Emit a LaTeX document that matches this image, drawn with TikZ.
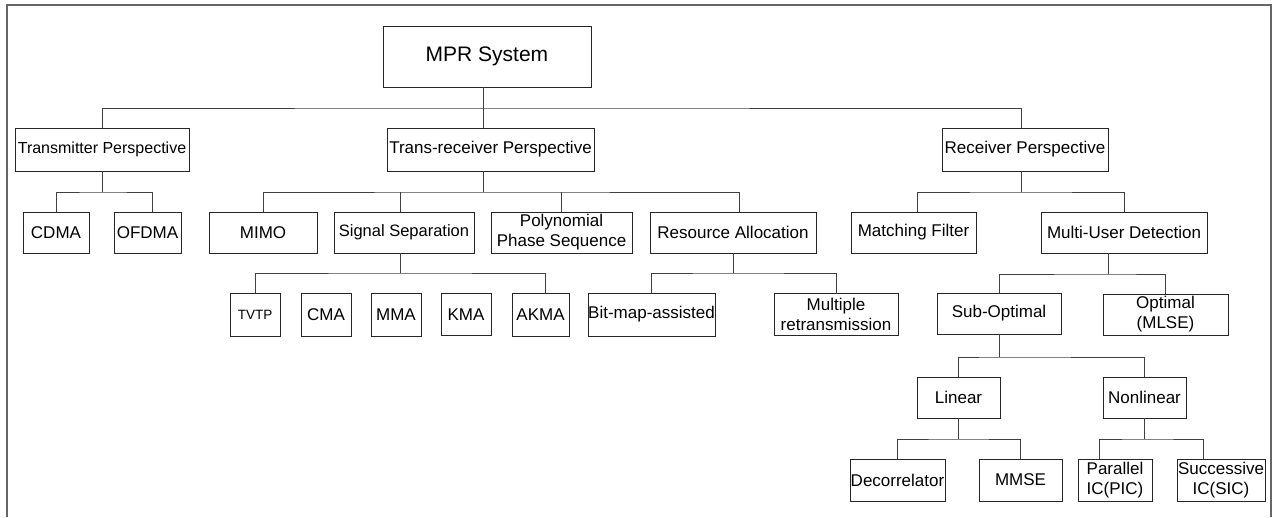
\documentclass[tikz,border=0pt]{standalone}
\usepackage{fontspec}
\setmainfont{Liberation Sans}
\begin{document}
\begin{tikzpicture}[x=1pt,y=-1pt,
  box/.style={draw=black!85, line width=0.9pt, inner sep=0pt, outer sep=0pt, align=center,
    font=\fontsize{17}{20}\selectfont},
  sz/.style 2 args={minimum width=#1pt, minimum height=#2pt},
  link/.style={draw=black!75, line width=0.9pt},
  frame/.style={draw=black!60, line width=1.3pt}]

\useasboundingbox (0,0) rectangle (1279,517);

% outer frame (open at the bottom)
\draw[frame] (7,517) -- (7,5) -- (1271,5) -- (1271,517);

% root
\node[box, sz={208}{61}, font=\fontsize{21}{25}\selectfont] (mpr) at (487,56.5) {MPR System};

% perspectives
\node[box, sz={174}{43}, font=\fontsize{16}{20}\selectfont] (tx) at (102,149.5) {Transmitter Perspective};
\node[box, sz={207}{43}] (trx) at (490.5,149.5) {Trans-receiver Perspective};
\node[box, sz={166}{43}] (rx) at (1025,149.5) {Receiver Perspective};

% second level
\node[box, sz={66}{41}] (cdma) at (56,232.5) {CDMA};
\node[box, sz={67}{41}] (ofdma) at (147.5,232.5) {OFDMA};
\node[box, sz={108}{41}] (mimo) at (263,232.5) {MIMO};
\node[box, sz={140}{41}, font=\fontsize{16.5}{20}\selectfont] (sigsep) at (404,232.5) {Signal Separation};
\node[box, sz={141}{41}] (poly) at (561.5,232.5) {Polynomial\\Phase Sequence};
\node[box, sz={166}{41}] (res) at (733,232.5) {Resource Allocation};
\node[box, sz={125}{41}] (match) at (913.5,232.5) {Matching Filter};
\node[box, sz={166}{41}] (mud) at (1124,232.5) {Multi-User Detection};

% third level
\node[box, sz={50}{43}, font=\fontsize{13.5}{16}\selectfont] (tvtp) at (255,314.5) {TVTP};
\node[box, sz={50}{43}] (cma) at (326,314.5) {CMA};
\node[box, sz={50}{43}] (mma) at (396,314.5) {MMA};
\node[box, sz={50}{42}] (kma) at (466,314.5) {KMA};
\node[box, sz={57}{43}] (akma) at (540.5,314.5) {AKMA};
\node[box, sz={127}{43}] (bitmap) at (651.5,314.5) {Bit-map-assisted};
\node[box, sz={124}{42}] (multi) at (836,314.5) {Multiple\\retransmission};
\node[box, sz={124}{41}] (subopt) at (999,313.5) {Sub-Optimal};
\node[box, sz={125}{41}] (optimal) at (1165.5,314.5) {Optimal\\(MLSE)};

% fourth level
\node[box, sz={83}{41}] (linear) at (958.5,397.5) {Linear};
\node[box, sz={83}{41}] (nonlin) at (1144.5,397.5) {Nonlinear};

% fifth level
\node[box, sz={95}{42}] (decorr) at (897.5,480) {Decorrelator};
\node[box, sz={83}{42}] (mmse) at (1020.5,480) {MMSE};
\node[box, sz={74}{42}] (pic) at (1115,480) {Parallel\\IC(PIC)};
\node[box, sz={88}{42}] (sic) at (1221,480) {Successive\\IC(SIC)};

% bus junctions
\coordinate (b1) at (483,108);
\coordinate (b2a) at (102,192);
\coordinate (b2b) at (483,192);
\coordinate (b2c) at (1021,192);
\coordinate (b3a) at (400,273);
\coordinate (b3b) at (733,273);
\coordinate (b3c) at (1108,274);
\coordinate (b4) at (999,357);
\coordinate (b5a) at (958.5,439);
\coordinate (b5b) at (1144.5,439);

% root to perspectives
\draw[link] ([xshift=-4pt]mpr.south) -- ([xshift=-4pt]mpr.south |- b1);
\draw[link] (tx.north) |- (b1) -| ([xshift=-4pt]rx.north);
\draw[link] ([xshift=-7.5pt]trx.north) -- ([xshift=-7.5pt]trx.north |- b1);

% transmitter branch
\draw[link] (tx.south) -- (b2a);
\draw[link] (cdma.north) |- (b2a) -| ([xshift=4.5pt]ofdma.north);

% trans-receiver branch
\draw[link] ([xshift=-7.5pt]trx.south) -- (b2b);
\draw[link] (mimo.north) |- (b2b) -| ([xshift=6pt]res.north);
\draw[link] ([xshift=-4pt]sigsep.north) -- ([xshift=-4pt]sigsep.north |- b2b);
\draw[link] (poly.north) -- (poly.north |- b2b);

% receiver branch
\draw[link] ([xshift=-4pt]rx.south) -- (b2c);
\draw[link] ([xshift=3.5pt]match.north) |- (b2c) -| (mud.north);

% signal separation
\draw[link] ([xshift=-4pt]sigsep.south) -- (b3a);
\draw[link] (tvtp.north) |- (b3a) -| ([xshift=4.5pt]akma.north);

% resource allocation
\draw[link] (res.south) -- (b3b);
\draw[link] (bitmap.north) |- (b3b) -| (multi.north);

% multi-user detection
\draw[link] ([xshift=-16pt]mud.south) -- (b3c);
\draw[link] (subopt.north) |- (b3c) -| (optimal.north);

% sub-optimal
\draw[link] (subopt.south) -- (b4);
\draw[link] (linear.north) |- (b4) -| (nonlin.north);

% linear
\draw[link] (linear.south) -- (b5a);
\draw[link] (decorr.north) |- (b5a) -| (mmse.north);

% nonlinear
\draw[link] (nonlin.south) -- (b5b);
\draw[link] ([xshift=-16pt]pic.north) |- (b5b) -| ([xshift=-18pt]sic.north);

\end{tikzpicture}
\end{document}
